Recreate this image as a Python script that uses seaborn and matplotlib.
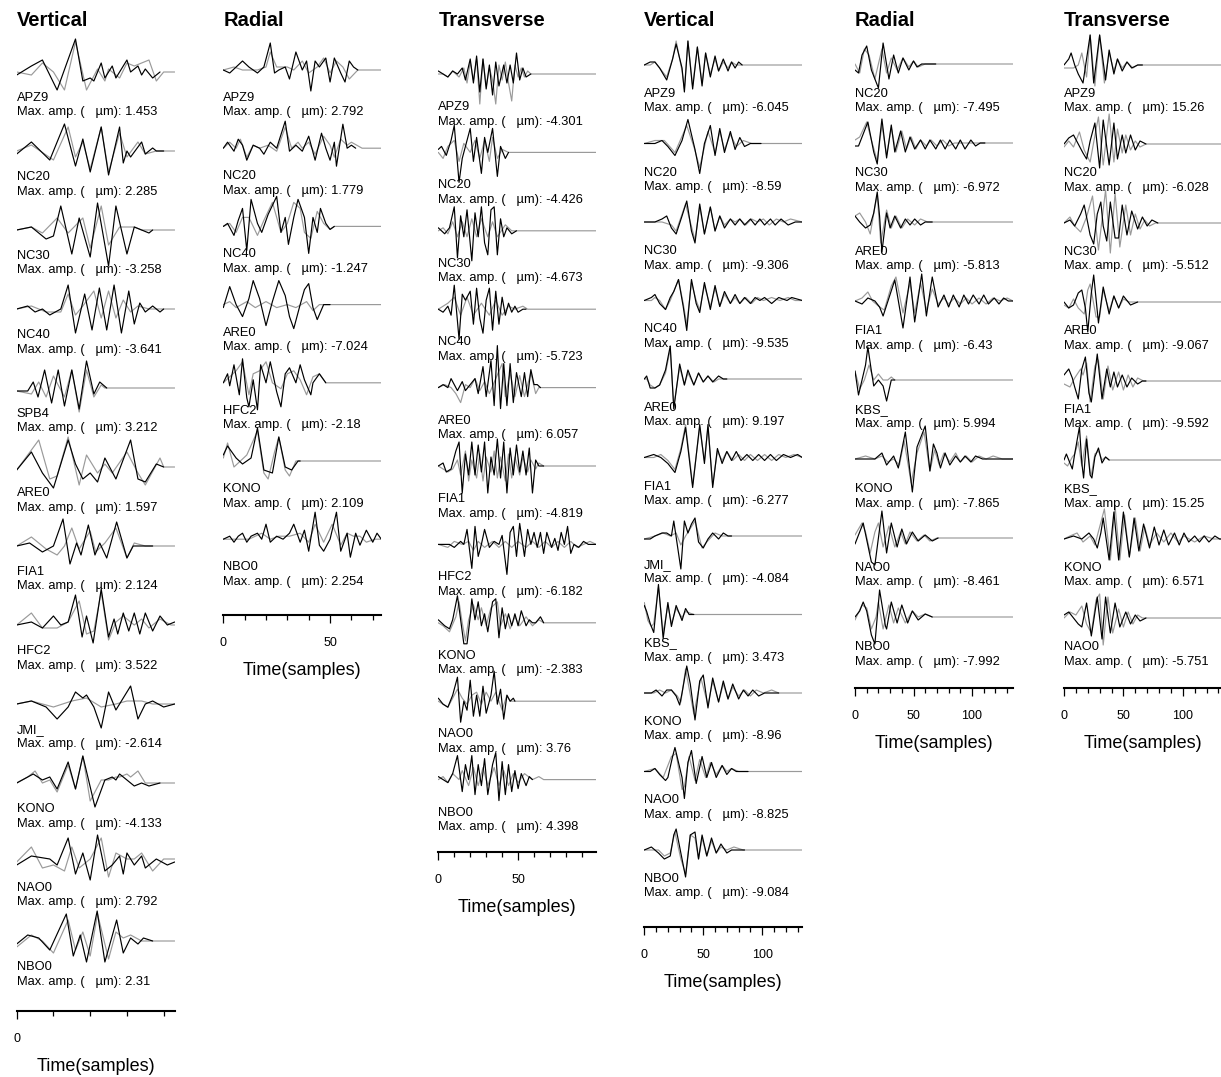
import matplotlib
matplotlib.use("Agg")
import matplotlib.pyplot as plt
from matplotlib.ticker import MultipleLocator
import pandas as pd
import seaborn as sns

# ---- data: waveform turning points (sample, amplitude) ----
# black = observed, gray = synthetic; amplitude in relative units

VERT1_STATIONS = ["APZ9", "NC20", "NC30", "NC40", "SPB4", "ARE0", "FIA1", "HFC2", "JMI_", "KONO", "NAO0", "NBO0"]
VERT1_AMPS = [1.453, 2.285, -3.258, -3.641, 3.212, 1.597, 2.124, 3.522, -2.614, -4.133, 2.792, 2.31]
VERT1_OBS = [
    [(0,-1),(4,2),(7,4),(11,-6),(16,11),(18,-3),(20,-2),(21,-3),(23,3),(24,-2),(26,2),(27,-2),(30,4),(31,0),(33,2),(34,-1),(35,1),(37,-2),(39,0)],
    [(0,-1),(4,3),(9,-3),(13,9),(16,-5),(18,4),(20,-7),(23,8),(25,-8),(28,8),(29,-4),(30,0),(31,-2),(34,3),(35,-1),(37,1),(38,0),(40,0)],
    [(0,0),(4,1),(8,-3),(10,-2),(12,8),(15,-8),(17,4),(20,-9),(22,9),(25,-12),(27,8),(30,-8),(32,1),(34,0),(36,-1),(37,0)],
    [(0,0),(3,1),(5,-1),(7,0),(9,-2),(12,0),(14,8),(16,-8),(18.5,5),(20.5,-7),(22.5,7),(24.5,-7),(26.5,8),(28.5,-8),(30.5,6),(32,-5),(33.5,2),(35,-1),(37,1),(39,-1),(40,0)],
    [(0,-1),(3,-1),(4.5,2),(5.8,-3),(7.6,6),(9.5,-5),(11.3,6),(13,-6),(15,6),(17,-7),(19,9),(21,-2),(22.6,2),(24.5,0)],
    [(0,-1),(4,5),(7,-2),(10,-7),(14,9),(16,1),(18,-4),(20,-2),(22,-5),(24,3),(27,-4),(31,9),(33,-4),(35,-5),(38,1),(40,0)],
    [(0,0),(3.5,1),(7,-2),(10,0),(12.6,9),(14.5,-6),(16.3,1),(17.5,-3),(19.5,7),(21.3,-3),(22.6,1),(24.5,-4),(27.2,8),(30,-4),(31.7,0),(35,0),(37,0)],
    [(0,0),(4,1),(7,-1),(10,3),(12,0),(14,1),(16,10),(17.8,-4),(19,3),(20.8,-6),(23,12),(25,-4),(26.5,2),(27.5,-3),(29,4),(30.5,-2),(32,4),(33.5,-3),(35,4),(37,-2),(39,3),(41,0),(43,1)],
    [(0,0),(4,1),(8,-1),(11,-5),(14,-1),(16,4),(18,2),(19,3),(21,-1),(23,-8),(25,4),(27,-2),(29,2),(31,6),(33,-5),(35,0),(37,1),(40,-1),(43,0)],
    [(0,0),(4.5,3),(7,1),(9,2),(11,-2),(14,7),(16,-2),(18,9),(21.3,-8),(24,1),(26,2),(27,1),(28,3),(30,1),(32,-1),(34,0),(36,-1),(39,0)],
    [(0,-1),(4,2),(9,1),(11,-1),(14,8),(16,-4),(18,3),(20,-6),(22,9),(24,-3),(26,-1),(28,2),(29,-4),(30,3),(32,-1),(34,2),(35,-2),(38,1),(41,-1),(43,0)],
    [(0,-1),(3,2),(6,1),(9,-3),(13.5,9),(15.4,-5),(17.3,2),(19,-7),(21.9,10),(24,-7),(27.2,7),(29,-4),(31,1),(33,-1),(34.5,1),(37,0)],
]
VERT1_SYN = [
    [(0,0),(4,-1),(7,3),(10,0),(13,-6),(16,10),(19,-6),(22,1),(24,-3),(25,1),(28,-2),(30,3),(32,2),(36,4),(38,-3),(40,0),(43,0)],
    [(0,0),(4,2),(10,-3),(14,8),(16,-2),(18,3),(20,-6),(23,8),(25,-7),(28,6),(30,-2),(33,3),(35,-1),(38,0),(43,0)],
    [(0,0),(4,1),(7,-1),(11,4),(14,-1),(18,4),(20,-6),(23,8),(25,-5),(28,1),(32,1),(34,0),(43,0)],
    [(0,0),(4,1),(8,-1),(12,-1),(14,5),(16,-2),(18,1),(21,6),(23,-3),(25,6),(27,-3),(29,3),(31,-1),(33,1),(36,0),(43,0)],
    [(0,-1),(4,-2),(6,2),(8,-3),(10,4),(13,-3),(15,6),(17,-8),(19,6),(21,-3),(23,1),(24,0),(43,0)],
    [(0,-1),(6,9),(9,-4),(11,-3),(14,10),(17,-6),(19,4),(22,-2),(24,1),(26,-2),(30,5),(33,-2),(35,-6),(39,3),(40,0),(43,0)],
    [(0,0),(4,3),(8,-1),(11,-3),(13,0),(15,6),(17,-1),(20,5),(21.5,-2),(24,1),(27,6),(30,-4),(32,1),(35,0),(43,0)],
    [(0,0),(4,4),(7,-1),(11,-1),(14,1),(17,8),(19,-3),(21,-2),(23,11),(25,-5),(27,1),(29,3),(32,0),(34,2),(36,-1),(39,2),(42,0),(43,0)],
    [(0,0),(4,1),(10,-1),(15,1),(19,2),(23,-1),(27,0),(30,1),(34,1),(37,0),(43,0)],
    [(0,0),(3,2),(5,4),(7,0),(9,1),(11,-3),(14,6),(15,2),(16,-2),(18,9),(20,-6),(23,1),(25,1),(27,2),(28,2),(30,3),(31,2),(33,4),(35,0),(43,0)],
    [(0,0),(4,5),(7,-2),(10,-1),(13,-3),(15,5),(17,-2),(20,1),(23,8),(25,-5),(27,3),(30,1),(32,1),(34,3),(37,-3),(40,1),(43,1)],
    [(0,-2),(4,2),(7,0),(10,-4),(14,7),(16,-3),(18,3),(20,-5),(22,9),(25,-6),(27,3),(29,1),(31,2),(34,0),(43,0)],
]

RAD1_STATIONS = ["APZ9", "NC20", "NC40", "ARE0", "HFC2", "KONO", "NBO0"]
RAD1_AMPS = [2.792, 1.779, -1.247, -7.024, -2.18, 2.109, 2.254]
RAD1_OBS = [
    [(0,0),(3,-1),(6,1),(9,3),(12,1),(16,-1),(19,1),(22,9),(24,-1),(26,0),(29,1),(31,-3),(34,6),(37,0),(39,3),(41,-7),(43,3),(45,1),(48,4),(50,-4),(52,4),(55,-1),(57,-4),(59,3),(61,1),(63,0)],
    [(0,0),(2,2),(5,-1),(7,3),(9,1),(11,-4),(14,1),(17,0),(19,-2),(22,2),(25,0),(29,9),(31,-1),(34,1),(37,-1),(40,4),(43,-4),(46,5),(48,0),(50,-4),(52,2),(53,-6),(56,8),(58,0),(60,1),(62,0)],
    [(0,0),(2,1),(5,-3),(7,2),(9,6),(11,-8),(13,9),(16,1),(18,-2),(21,4),(25,10),(27,-2),(29,3),(30.5,-6),(33,3),(35,9),(38,3),(40,-9),(42,3),(44,-2),(45.5,6),(48,1),(50,-1),(52,0)],
    [(0,-1),(3,6),(6,0),(9,-4),(12,2),(14,8),(17,2),(20,-7),(23,1),(26,8),(29,3),(31,-4),(33,-8),(36,0),(38,5),(40,7),(42,-1),(44,-5),(47,0),(50,0)],
    [(0,0),(2,3),(3,-1),(5,6),(7.5,-4),(9,8),(11,-5),(12,-8),(14,1),(16,-9),(17.5,6),(20,0),(22,7),(25,-3),(27,-8),(29,3),(31,5),(34,0),(36,6),(38,1),(41,-4),(42,0),(45,3),(47,1),(48,0)],
    [(0,2),(2,5),(6,1),(9,-1),(13,1),(16,11),(19,-3),(23,-4),(26,8),(29,-2),(32,-3),(35,0),(36,0)],
    [(0,0),(3,1),(5,-1),(7,1),(9,2),(11,-1),(13,1),(16,2),(18,0),(20,5),(22,-1),(25,1),(28,0),(31,2),(33,5),(36,-1),(38,3),(40,-4),(43,9),(45,-2),(47,-4),(50,0),(53,9),(55,-4),(58,2),(59.5,-6),(62,2),(64,-2),(67,3),(70,-1),(72,2),(74,0)],
]
RAD1_SYN = [
    [(0,0),(5,1),(9,0),(16,0),(20,1),(22,6),(25,1),(30,1),(33,0),(37,3),(40,-1),(44,1),(47,4),(50,-1),(53,3),(56,1),(59,-3),(63,0),(74,0)],
    [(0,0),(3,2),(6,0),(8,3),(11,-3),(14,1),(17,0),(21,1),(25,-1),(29,7),(32,0),(35,2),(37,0),(40,2),(43,-2),(47,4),(50,1),(52,-3),(55,3),(58,1),(60,2),(65,0),(74,0)],
    [(0,0),(3,1),(6,-2),(9,3),(12,3),(16,-3),(19,2),(23,8),(27,-2),(30,1),(33,8),(36,6),(38,-2),(41,-4),(44,5),(47,1),(50,-1),(52,0),(74,0)],
    [(0,0),(3,1),(6,-1),(11,1),(15,-1),(20,1),(25,-1),(30,0),(34,-1),(39,1),(42,-2),(45,0),(74,0)],
    [(0,0),(3,2),(6,4),(9,7),(12,-4),(14,3),(17,4),(20,7),(23,0),(27,-2),(30,3),(33,4),(36,1),(39,-4),(42,2),(45,3),(48,0),(74,0)],
    [(0,1),(2,6),(5,-2),(8,0),(11,2),(16,10),(19,-4),(21,-6),(24,3),(26,8),(29,-3),(31,-5),(34,0),(35,0),(74,0)],
    [(0,0),(6,0),(12,0),(18,2),(22,0),(26,1),(31,1),(36,2),(40,-1),(43,5),(47,-1),(51,5),(55,-2),(58,2),(61,1),(64,1),(67,-1),(71,0),(74,0)],
]

TRANS1_STATIONS = ["APZ9", "NC20", "NC30", "NC40", "ARE0", "FIA1", "HFC2", "KONO", "NAO0", "NBO0"]
TRANS1_AMPS = [-4.301, -4.426, -4.673, -5.723, 6.057, -4.819, -6.182, -2.383, 3.76, 4.398]
TRANS1_OBS = [
    [(0,1),(3,0),(6,-1),(9,1),(12,0),(15,2),(17,-2),(20,5),(22,-3),(24,6),(26,-6),(28,5),(30,-5),(32,3),(34,-7),(36,4),(38,-4),(41,3),(43,-3),(45,3),(47,-3),(49,7),(51,-2),(53,2),(55,-1),(58,0)],
    [(0,1),(2,2),(5,-1),(8,4),(10,9),(13,-10),(15,-2),(18,4),(20,8),(22,-3),(24,5),(27,-7),(29,5),(31,0),(34,8),(37,-8),(39,2),(42,-2),(44,0)],
    [(0,1),(4,-1),(7,1),(10,8),(12,-9),(14,5),(16,-2),(18,7),(21,-10),(23,6),(25,-2),(27,8),(29,-4),(31,-8),(33,7),(35,8),(37,-8),(39,4),(41,-2),(43,1),(46,-1),(49,0)],
    [(0,0),(3,-1),(6,1),(8,-2),(10,8),(13,-10),(15,5),(17,3),(20,6),(22,-5),(24,7),(26,-3),(28,-8),(30,3),(32,7),(34,-7),(36,6),(38,-5),(40,4),(42,-2),(44,2),(46,-1),(48,1),(50,-1),(53,0),(55,0)],
    [(0,0),(3,1),(6,0),(8,3),(12,-1),(15,2),(17,-1),(20,1),(23,3),(25,-2),(28,7),(30,-3),(33,9),(35,-6),(37,14),(39,-7),(41,8),(43,-6),(45,8),(47,-5),(49,5),(52,-3),(54,5),(56,-3),(58,6),(60,1),(62,1),(64,0)],
    [(0,0),(3,1),(5,-2),(8,-1),(11,5),(13,8),(15,-9),(17,4),(19,-3),(21,8),(23,-3),(25,7),(27,-2),(29,8),(31,-9),(33,3),(35,-3),(37,9),(39,-4),(41,8),(43,-9),(45,6),(47,-3),(49,7),(51,-2),(53,5),(55,-3),(57,6),(59,-9),(61,2),(63,0),(66,0)],
    [(0,0),(4,0),(7,0),(10,-1),(14,1),(16,0),(18,5),(21,-8),(23,6),(25,-4),(27,0),(29,5),(32,-1),(35,1),(38,0),(40,3),(43,-10),(45,4),(47,6),(49,-4),(51,7),(54,-4),(56,5),(58,0),(60,4),(62,-1),(64,4),(66,-3),(68,4),(71,-1),(73,2),(75,-2),(77,4),(79,0),(81,6),(83,-3),(85,0),(88,-1),(91,1),(94,0),(99,0)],
    [(0,1),(4,-1),(7,-2),(9,1),(12,9),(14,1),(16,-7),(18,-7),(20,2),(21,8),(23,1),(25,7),(27,-1),(29,3),(31,-3),(34,7),(36,8),(38,-5),(40,5),(42,-2),(44,3),(46,-1),(48,3),(50,-1),(52,4),(55,-1),(57,1),(59,0),(61,0),(64,2),(66,0)],
    [(0,1),(3,-1),(6,-2),(9,2),(12,8),(14,-7),(16,0),(18,-3),(20,7),(22,-5),(24,2),(26,-5),(28,5),(30,-4),(33,2),(35,10),(37,-1),(39,4),(41,-6),(43,2),(45,0),(47,1),(48,0)],
    [(0,1),(3,0),(6,-1),(9,2),(12,8),(14,0),(15,-4),(17,5),(19,0),(21,8),(23,-5),(25,5),(27,-2),(29,7),(31,-5),(34,5),(36,9),(38,-7),(40,6),(42,-5),(44,5),(46,-4),(48,3),(50,-3),(52,2),(55,-2),(57,1),(59,0)],
]
TRANS1_SYN = [
    [(0,0),(3,0),(6,-1),(9,1),(13,-1),(16,2),(18,-3),(20,4),(22,-2),(24,5),(26,-10),(28,5),(30,-4),(32,2),(34,-2),(36,-10),(38,3),(40,-2),(42,4),(44,-3),(46,-9),(48,3),(50,-1),(52,2),(54,-1),(56,1),(58,0),(99,0)],
    [(0,0),(3,-2),(6,2),(10,4),(13,-3),(16,3),(20,0),(23,4),(26,-2),(29,4),(32,-3),(34,5),(37,-2),(40,1),(44,0),(99,0)],
    [(0,0),(3,1),(6,-1),(9,3),(12,-2),(15,3),(18,-2),(21,4),(24,-2),(27,4),(31,-2),(34,3),(37,-2),(42,2),(46,0),(50,0),(99,0)],
    [(0,0),(6,2),(10,4),(14,-2),(18,4),(22,-2),(27,2),(32,-2),(36,3),(40,-2),(44,1),(48,0),(53,1),(56,0),(99,0)],
    [(0,0),(4,1),(8,0),(11,-2),(14,-5),(17,1),(20,0),(23,3),(26,-1),(29,2),(32,-2),(36,3),(40,8),(42,-3),(45,5),(48,-3),(51,4),(54,-3),(58,5),(61,-2),(63,0),(99,0)],
    [(0,0),(3,-1),(6,-2),(9,-1),(12,2),(14,-3),(17,5),(19,-5),(21,2),(24,-4),(26,4),(28,-5),(30,3),(33,-2),(35,5),(37,-4),(39,3),(42,-5),(44,4),(46,-4),(48,3),(51,-3),(53,3),(56,-2),(58,2),(61,-1),(63,1),(66,0),(99,0)],
    [(0,0),(6,-1),(10,1),(15,0),(19,1),(22,-2),(25,1),(29,-1),(34,1),(38,-1),(42,1),(46,-1),(50,1),(55,-1),(59,1),(63,-1),(67,1),(71,-1),(75,1),(79,-1),(83,1),(87,-1),(91,0),(95,1),(99,0)],
    [(0,0),(3,-1),(7,-3),(11,2),(13,7),(15,0),(17,-6),(19,1),(22,6),(25,1),(27,5),(30,-1),(33,5),(37,7),(39,-1),(42,3),(45,-2),(48,2),(51,-1),(55,2),(59,-1),(63,1),(66,0),(99,0)],
    [(0,0),(3,-1),(6,-2),(9,1),(12,4),(15,1),(18,-1),(21,2),(24,3),(27,-1),(30,3),(33,0),(36,3),(40,-3),(43,2),(45,0),(99,0)],
    [(0,0),(3,1),(6,-1),(9,2),(13,0),(15,3),(19,-2),(22,4),(25,-2),(28,4),(31,-2),(35,4),(38,-2),(41,3),(44,-2),(47,2),(50,-1),(54,2),(59,0),(63,1),(66,0),(99,0)],
]

VERT2_STATIONS = ["APZ9", "NC20", "NC30", "NC40", "ARE0", "FIA1", "JMI_", "KBS_", "KONO", "NAO0", "NBO0"]
VERT2_AMPS = [-6.045, -8.59, -9.306, -9.535, 9.197, -6.277, -4.084, 3.473, -8.96, -8.825, -9.084]
VERT2_OBS = [
    [(0,0),(5,1),(9,1),(13,-1),(19,-5),(24,2),(27,7),(32,-1),(34,-9),(37,8),(41,-8),(45,6),(49,-7),(52,4),(56,-4),(60,3),(63,-2),(67,2),(71,-2),(74,1),(77,-1),(80,1),(83,0)],
    [(0,0),(9,0),(15,1),(20,-1),(26,-4),(32,1),(37,8),(43,-2),(47,-10),(51,0),(56,6),(60,-4),(64,5),(68,-3),(73,4),(77,-2),(81,2),(85,-1),(90,0),(94,0),(99,0)],
    [(0,0),(9,0),(15,1),(19,2),(23,-2),(27,-4),(32,2),(36,7),(40,-3),(43,-7),(47,6),(51,-4),(56,5),(60,-3),(64,2),(68,-2),(73,1),(77,-1),(81,1),(85,-1),(90,1),(94,-1),(98,1),(102,-1),(107,1),(111,-1),(116,1),(122,-1),(128,0),(134,0)],
    [(0,0),(6,1),(9,2),(13,-1),(18,-3),(22,1),(25,3),(29,7),(33,-2),(36,-10),(40,7),(44,-1),(47,-4),(51,6),(56,-3),(60,5),(64,-2),(68,3),(73,-1),(77,2),(81,-1),(85,1),(90,-1),(94,1),(98,0),(102,1),(108,-1),(114,1),(121,0),(125,1),(134,0)],
    [(0,0),(2,1),(5,-3),(9,-3),(13,-2),(18,3),(22,11),(25,-10),(30,5),(34,-2),(37,3),(42,-2),(46,2),(50,-1),(54,1),(58,-1),(63,1),(67,0),(70,0)],
    [(0,0),(8,1),(14,0),(20,-2),(26,-5),(31,2),(35,10),(41,-10),(47,11),(51,-2),(54,11),(58,-10),(62,3),(66,-2),(70,2),(74,-1),(78,2),(82,-1),(87,1),(92,-1),(97,1),(102,-1),(107,1),(112,-1),(118,1),(124,0),(130,1),(134,0)],
    [(0,-1),(5,-1),(9,0),(15,1),(19,1),(23,0),(25,5),(28,-3),(31,-11),(34,5),(37,1),(40,4),(43,6),(46,-2),(50,-4),(54,-1),(58,1),(63,-1),(67,1),(71,0),(74,0)],
    [(0,3),(2,1),(5,-3),(8,-6),(12,10),(16,-8),(20,4),(23,-4),(27,3),(32,-2),(35,2),(38,0),(42,0)],
    [(0,0),(6,0),(10,1),(15,-1),(19,1),(23,1),(27,-1),(30,-4),(32,0),(36,9),(39,3),(43,-9),(47,4),(50,6),(54,-5),(58,5),(63,-3),(67,4),(71,-2),(75,3),(80,-2),(84,1),(88,-1),(92,1),(97,-1),(102,0),(108,0),(114,0)],
    [(0,0),(5,0),(9,1),(13,-1),(18,-3),(20,-2),(24,5),(26,8),(32,-2),(34,-9),(37,3),(40,7),(44,-4),(49,5),(53,-2),(57,3),(61,-2),(66,2),(70,-1),(74,1),(78,0),(82,0),(88,0)],
    [(0,0),(6,1),(12,-1),(17,-3),(22,-2),(25,5),(27,7),(32,-3),(35,-9),(39,5),(43,6),(46,-3),(49,5),(53,-2),(57,4),(61,-1),(65,2),(70,-1),(74,0),(78,0),(85,0)],
]
VERT2_SYN = [
    [(0,0),(5,0),(9,1),(13,-1),(19,-4),(24,2),(27,8),(32,-2),(34,-8),(37,8),(41,-7),(45,6),(49,-6),(52,4),(56,-3),(60,2),(63,-2),(67,1),(71,-1),(74,1),(78,0),(134,0)],
    [(0,0),(9,1),(17,1),(26,-3),(36,6),(42,-1),(47,-8),(54,4),(60,-3),(64,4),(68,-2),(73,3),(78,-1),(84,1),(91,0),(99,0),(134,0)],
    [(0,0),(9,0),(15,0),(23,-1),(27,-3),(35,6),(43,-6),(47,5),(51,-4),(56,5),(60,-3),(64,2),(68,-1),(73,1),(77,0),(81,1),(86,-1),(91,1),(96,0),(101,1),(106,-1),(112,1),(118,0),(124,1),(134,0)],
    [(0,0),(6,0),(9,1),(13,0),(18,-3),(22,0),(29,7),(33,-1),(36,-8),(40,6),(44,0),(47,-3),(51,5),(56,-2),(60,4),(64,-2),(68,2),(73,-1),(77,1),(81,-1),(86,1),(91,-1),(96,1),(101,0),(108,1),(115,0),(122,1),(128,0),(134,0)],
    [(0,0),(2,0),(5,-2),(9,-3),(13,-2),(18,2),(22,10),(25,-9),(30,4),(34,-2),(37,2),(42,-2),(46,2),(50,-1),(54,1),(59,-1),(63,0),(67,0),(134,0)],
    [(0,0),(8,0),(14,1),(20,-1),(26,-4),(31,3),(35,11),(41,-9),(47,10),(51,-1),(54,10),(58,-9),(62,2),(66,-1),(70,2),(75,-1),(80,1),(85,-1),(90,1),(96,-1),(102,1),(108,-1),(114,1),(120,0),(127,1),(134,0)],
    [(0,-1),(9,0),(16,1),(22,0),(27,1),(31,-3),(35,0),(43,5),(49,-4),(53,-2),(60,1),(66,0),(71,0),(134,0)],
    [(0,4),(3,-2),(6,-4),(8,-3),(12,9),(16,-6),(20,3),(23,-3),(27,2),(32,-1),(35,1),(42,0),(134,0)],
    [(0,0),(8,0),(13,1),(18,0),(23,1),(28,-1),(31,-3),(35,8),(42,-7),(48,5),(54,-4),(58,4),(63,-3),(67,3),(71,-2),(75,2),(80,-1),(85,1),(90,-1),(95,1),(101,0),(108,1),(114,0),(134,0)],
    [(0,0),(9,1),(16,-2),(23,5),(27,6),(32,-6),(34,-5),(38,5),(43,-3),(47,4),(52,-2),(56,3),(61,-1),(66,2),(70,0),(74,1),(80,0),(88,0),(134,0)],
    [(0,0),(6,0),(12,0),(17,-2),(22,-1),(26,6),(31,-3),(35,-8),(39,5),(43,4),(46,-3),(49,4),(53,-2),(57,3),(61,-1),(65,1),(70,0),(76,1),(84,0),(134,0)],
]

RAD2_STATIONS = ["NC20", "NC30", "ARE0", "FIA1", "KBS_", "KONO", "NAO0", "NBO0"]
RAD2_AMPS = [-7.495, -6.972, -5.813, -6.43, 5.994, -7.865, -8.461, -7.992]
RAD2_OBS = [
    [(0,-2),(3,-3),(6,3),(10,6),(14,-2),(19,-7),(20,-8),(24,7),(29,-5),(33,3),(37,-3),(41,2),(46,-2),(50,1),(53,-1),(57,0),(63,0),(69,0)],
    [(0,-1),(3,-1),(7,3),(11,7),(16,-3),(19,-7),(21,1),(23,8),(27,-5),(31,6),(34,-3),(39,4),(43,-3),(47,2),(51,-2),(56,1),(60,-2),(64,1),(69,-2),(73,1),(77,-2),(81,1),(86,-2),(90,1),(94,-2),(99,1),(103,-1),(107,0),(111,0)],
    [(0,2),(4,0),(9,-2),(13,-1),(16,3),(19,10),(21,2),(23,-10),(27,3),(30,-2),(34,2),(39,-2),(43,1),(47,-1),(51,1),(56,-1),(60,0),(66,0)],
    [(0,0),(6,-1),(11,1),(17,0),(21,-2),(24,-5),(29,1),(34,7),(41,-9),(47,8),(51,-7),(57,9),(61,-5),(66,8),(71,-2),(76,2),(80,-2),(84,2),(89,-2),(93,2),(97,-1),(101,2),(106,-1),(110,2),(114,-1),(119,1),(123,-1),(127,1),(131,0),(135,0)],
    [(0,3),(3,-5),(6,0),(9,5),(11,11),(14,3),(16,-2),(20,0),(24,-2),(27,-7),(31,0),(34,0)],
    [(0,0),(9,0),(17,0),(23,2),(27,-2),(33,1),(37,-3),(43,9),(49,-11),(53,4),(60,11),(64,-4),(67,5),(70,2),(73,-3),(77,2),(81,-2),(86,1),(90,-1),(94,1),(99,-1),(103,1),(109,0),(114,0),(120,0),(126,0),(135,0)],
    [(0,-2),(7,5),(14,-8),(17,-9),(23,9),(27,-5),(31,5),(36,-3),(40,3),(44,-2),(49,2),(54,-1),(60,1),(66,-1),(71,0)],
    [(0,0),(4,2),(7,5),(10,2),(14,-6),(17,-9),(21,9),(26,-3),(27,-4),(31,5),(36,-2),(40,4),(45,-2),(49,2),(54,-1),(60,1),(66,0)],
]
RAD2_SYN = [
    [(0,0),(4,-3),(8,5),(12,3),(17,-5),(23,5),(27,-3),(31,2),(36,-2),(41,2),(46,-1),(50,1),(54,-1),(60,0),(66,0),(135,0)],
    [(0,1),(4,2),(10,7),(14,1),(19,-6),(23,6),(27,-4),(31,5),(35,-3),(40,4),(44,-2),(48,2),(52,-2),(56,1),(61,-1),(65,1),(70,-1),(75,1),(80,-1),(85,0),(90,0),(135,0)],
    [(0,2),(4,3),(9,0),(13,-4),(17,5),(19,9),(22,-7),(27,4),(31,-2),(35,2),(40,-2),(45,1),(51,-1),(56,1),(62,0),(67,0),(135,0)],
    [(0,0),(6,1),(11,3),(15,0),(21,-2),(25,-3),(31,5),(35,8),(41,-4),(47,6),(51,-4),(56,6),(61,-3),(66,4),(71,-1),(76,1),(80,-1),(85,1),(90,-1),(95,1),(100,-1),(106,1),(112,-1),(118,1),(124,0),(130,1),(135,0)],
    [(0,3),(4,-3),(8,0),(12,5),(16,0),(20,2),(24,0),(28,0),(31,1),(34,0),(135,0)],
    [(0,0),(9,1),(17,0),(23,1),(28,-1),(33,0),(38,-2),(42,6),(48,-8),(53,2),(59,9),(64,-4),(68,3),(72,-2),(76,2),(81,-1),(86,2),(90,-1),(95,1),(100,-1),(106,1),(112,0),(118,1),(126,0),(135,0)],
    [(0,1),(6,5),(9,2),(13,-5),(17,2),(20,5),(24,-3),(29,4),(34,-3),(39,2),(43,-2),(47,2),(53,-1),(59,1),(64,-1),(70,0),(135,0)],
    [(0,-1),(6,4),(10,3),(14,-4),(18,0),(20,5),(24,-4),(29,4),(33,-2),(37,3),(43,-2),(49,2),(54,0),(60,1),(66,0),(135,0)],
]

TRANS2_STATIONS = ["APZ9", "NC20", "NC30", "ARE0", "FIA1", "KBS_", "KONO", "NAO0"]
TRANS2_AMPS = [15.26, -6.028, -5.512, -9.067, -9.592, 15.25, 6.571, -5.751]
TRANS2_OBS = [
    [(0,0),(4,2),(6,4),(9,0),(12,-3),(16,-6),(22,10),(25,-6),(30,10),(35,-5),(38,5),(42,-3),(45,2),(49,-2),(53,1),(57,-1),(62,0),(66,0)],
    [(0,0),(4,2),(8,3),(12,0),(16,-3),(19,-5),(22,1),(26,7),(30,-8),(33,8),(38,-7),(42,7),(45,-5),(49,3),(52,-3),(56,3),(60,-2),(64,1),(69,0)],
    [(0,0),(5,1),(9,-1),(14,3),(17,6),(22,-4),(25,-7),(28,3),(31,7),(33,-1),(36,-6),(39,7),(43,-5),(46,-5),(49,6),(53,-4),(57,4),(62,-2),(66,2),(70,-1),(74,1),(79,0)],
    [(0,0),(4,-2),(8,-1),(12,3),(15,4),(18,-2),(20,-10),(23,3),(25,9),(29,-7),(33,5),(38,-4),(42,2),(46,-2),(50,2),(56,-1),(62,0)],
    [(0,2),(4,4),(7,1),(9,-2),(12,-6),(15,4),(18,8),(21,-4),(23,-7),(28,9),(32,-6),(36,4),(39,-2),(42,3),(45,-2),(49,2),(53,-2),(57,1),(62,-1),(66,0),(69,0)],
    [(0,0),(2,2),(5,-1),(7,-3),(9,2),(13,11),(15,-1),(16.5,-6),(19,7),(22,-5),(23.5,-6),(26,1),(29,4),(32,-1),(35,1),(38,0)],
    [(0,0),(8,1),(15,0),(21,2),(25,0),(28,-3),(31,2),(33,7),(38,-7),(42,9),(46,-7),(50,9),(55,-6),(59,7),(63,-4),(67,5),(72,-3),(76,4),(80,-2),(84,3),(88,-2),(93,2),(97,-2),(101,2),(105,-1),(110,1),(114,-1),(118,1),(122,-1),(127,1),(131,0),(133,0)],
    [(0,1),(4,2),(8,0),(12,-2),(15,-3),(19,5),(23,-6),(28,7),(32,-7),(35,7),(39,-5),(43,5),(47,-3),(52,2),(56,-2),(60,1),(64,-1),(69,0)],
]
TRANS2_SYN = [
    [(0,-1),(5,-1),(8,-1),(12,0),(15,4),(18,-2),(19,-4),(22,10),(26,-7),(30,10),(34,-6),(38,4),(42,-2),(45,2),(49,-1),(53,1),(58,-1),(62,0),(67,0),(133,0)],
    [(0,-1),(4,1),(8,-1),(13,4),(17,-2),(22,-6),(27,5),(29,9),(33,-7),(38,10),(42,-6),(45,5),(49,-3),(52,3),(56,-2),(60,1),(64,-1),(69,0),(133,0)],
    [(0,0),(5,2),(9,-1),(14,-3),(19,2),(24,9),(29,-9),(35,11),(39,-10),(43,10),(47,-8),(52,6),(56,-4),(60,3),(64,-2),(68,1),(72,-1),(77,0),(133,0)],
    [(0,-1),(4,-2),(8,1),(12,-2),(17,-4),(20,4),(22,6),(27,-5),(30,-5),(33,4),(38,-3),(42,2),(46,-2),(50,1),(55,0),(62,0),(133,0)],
    [(0,-1),(5,-2),(9,1),(14,4),(16,2),(19,6),(22,-7),(26,5),(29,7),(33,-6),(37,5),(41,-3),(46,3),(50,-3),(54,2),(58,-2),(62,1),(67,0),(133,0)],
    [(0,-1),(3,-2),(7,1),(9,2),(12,6),(15,-2),(19,8),(22,-4),(23,-5),(26,2),(29,3),(32,0),(35,1),(38,0),(133,0)],
    [(0,0),(5,1),(11,2),(16,-1),(22,1),(26,-2),(30,4),(34,10),(39,-7),(43,11),(47,-7),(51,8),(55,-6),(60,7),(64,-4),(68,4),(72,-2),(78,2),(84,-1),(90,2),(96,-1),(101,1),(110,-1),(118,1),(126,0),(133,0)],
    [(0,0),(5,2),(10,1),(15,4),(19,-2),(23,-5),(27,6),(30,8),(33,-9),(37,7),(41,-5),(46,3),(50,-3),(54,2),(58,-2),(62,1),(66,0),(70,0),(133,0)],
]

# ---- layout (pixels of the 1221 x 1077 figure) ----
W, H = 1221, 1077
AX_W = 158
AMP_PX = 3.0
OBS_COLOR, SYN_COLOR = "black", "#9a9a9a"

# title, stations, amps, obs, syn, left x, n samples, first label y, label step, trace-label gap, axis y
COLUMNS = [
    ("Vertical", VERT1_STATIONS, VERT1_AMPS, VERT1_OBS, VERT1_SYN, 16.7, 43, 98, 79.0, 26, 1011),
    ("Radial", RAD1_STATIONS, RAD1_AMPS, RAD1_OBS, RAD1_SYN, 223.3, 74, 98, 78.2, 28, 615),
    ("Transverse", TRANS1_STATIONS, TRANS1_AMPS, TRANS1_OBS, TRANS1_SYN, 438.3, 99, 107, 78.4, 33, 852),
    ("Vertical", VERT2_STATIONS, VERT2_AMPS, VERT2_OBS, VERT2_SYN, 644.3, 134, 94, 78.5, 29, 927),
    ("Radial", RAD2_STATIONS, RAD2_AMPS, RAD2_OBS, RAD2_SYN, 855.0, 135, 94, 79.0, 30, 688),
    ("Transverse", TRANS2_STATIONS, TRANS2_AMPS, TRANS2_OBS, TRANS2_SYN, 1064.0, 133, 94, 79.0, 29, 688),
]


def trace_frame(obs, syn, baselines):
    '''Long table of all traces of one column, y in figure pixels.'''
    rows = []
    for i, (o, s) in enumerate(zip(obs, syn)):
        for kind, trace in (("syn", s), ("obs", o)):
            for t, v in trace:
                rows.append((t, baselines[i] - AMP_PX * v, f"{i}-{kind}", kind))
    return pd.DataFrame(rows, columns=["t", "y", "unit", "kind"])


def draw_column(fig, title, stations, amps, obs, syn, x0, nsamp, label_y0, step, gap, axis_y):
    ax = fig.add_axes([x0 / W, (H - axis_y) / H, AX_W / W, axis_y / H])
    ax.patch.set_alpha(0)
    label_y = [label_y0 + step * i for i in range(len(stations))]
    baselines = [y - gap for y in label_y]

    df = trace_frame(obs, syn, baselines)
    sns.lineplot(data=df, x="t", y="y", units="unit", hue="kind", hue_order=["syn", "obs"],
                 palette={"syn": SYN_COLOR, "obs": OBS_COLOR}, estimator=None, sort=False,
                 linewidth=0.85, legend=False, ax=ax)

    for name, amp, y in zip(stations, amps, label_y):
        ax.text(0, y, name, fontsize=9.3, ha="left", va="center")
        ax.text(0, y + 14.5, f"Max. amp. (   \u00b5m): {amp}", fontsize=9.3, ha="left", va="center")

    ax.set_xlim(0, nsamp)
    ax.set_ylim(axis_y, 0)
    for side in ("left", "right", "top"):
        ax.spines[side].set_visible(False)
    ax.spines["bottom"].set_linewidth(1.5)
    ax.spines["bottom"].set_color("black")
    ax.set_yticks([])
    ax.set_ylabel("")
    ax.xaxis.set_major_locator(MultipleLocator(50))
    ax.xaxis.set_minor_locator(MultipleLocator(10))
    ax.tick_params(axis="x", which="both", bottom=True, direction="out", width=0.9, color="black")
    ax.tick_params(axis="x", which="major", length=6, labelsize=9, pad=10, labelcolor="black")
    ax.tick_params(axis="x", which="minor", length=3.5)
    ax.set_xlabel("Time(samples)", fontsize=13, labelpad=9, color="black")

    fig.text(x0 / W, 1 - 20 / H, title, fontsize=14.5, fontweight="bold", ha="left", va="center")


sns.set_style("ticks", {"axes.edgecolor": "black", "text.color": "black",
                        "axes.labelcolor": "black", "xtick.color": "black"})
plt.rcParams["font.family"] = ["Liberation Sans", "DejaVu Sans"]

fig = plt.figure(figsize=(W / 100, H / 100), dpi=100)
for col in COLUMNS:
    draw_column(fig, *col)

fig.savefig("out.png", dpi=100, facecolor="white")
